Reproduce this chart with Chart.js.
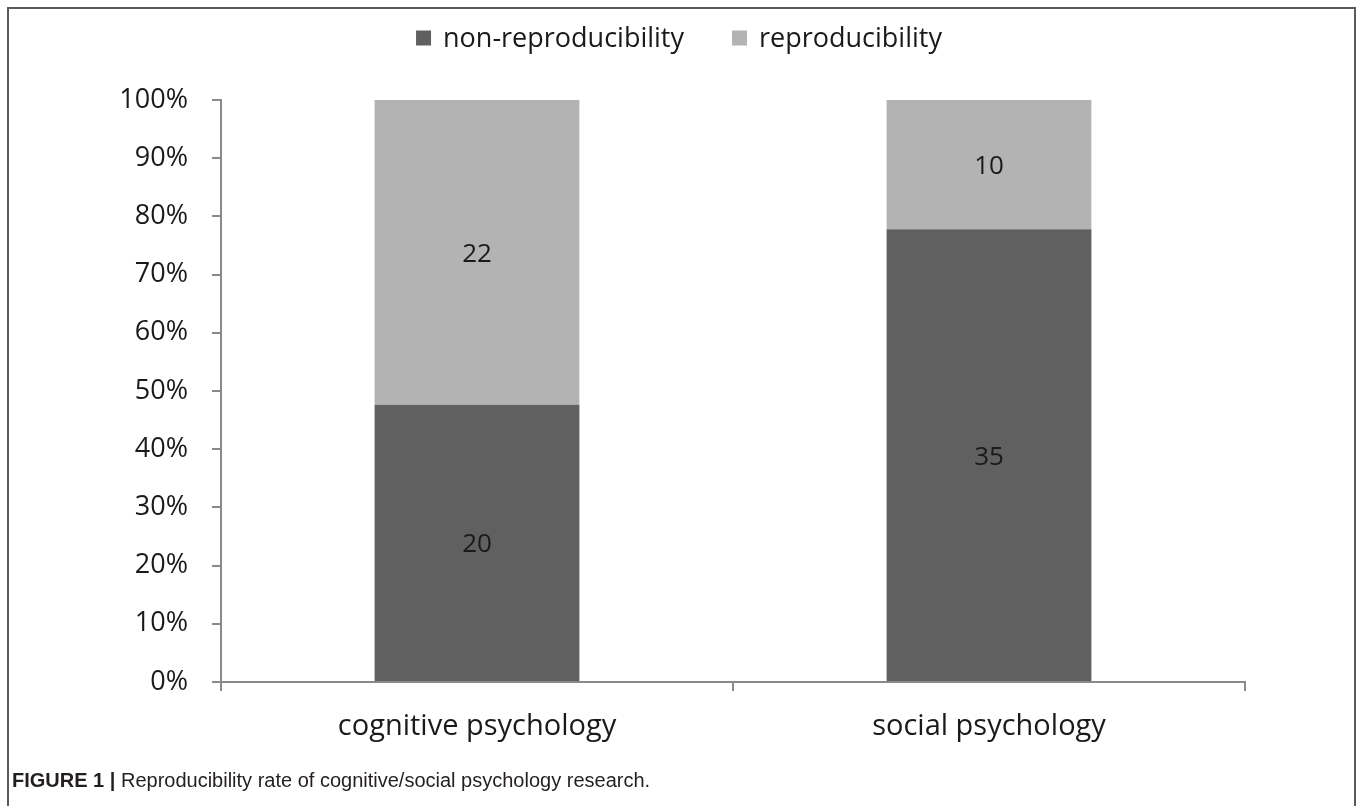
<!DOCTYPE html>
<html>
<head>
<meta charset="utf-8">
<script src="https://cdn.jsdelivr.net/npm/chart.js@4/dist/chart.umd.min.js"></script>
<style>
  html, body { margin: 0; padding: 0; background: #fff; }
  #frame {
    position: absolute; left: 0; top: 0; width: 1358px; height: 806px; overflow: hidden;
  }
  #box {
    position: absolute; left: 7px; top: 7px; width: 1349px; height: 820px;
    border: 2px solid #5a5a5a; box-sizing: border-box;
  }
  #chart { position: absolute; left: 0; top: 0; }
  #caption {
    position: absolute; left: 12px; top: 769px;
    font-family: "Liberation Sans", Arial, sans-serif;
    font-size: 20px; color: #231f20; white-space: nowrap;
  }
  #caption b { font-weight: bold; }
</style>
</head>
<body>
<div id="frame">
  <div id="box"></div>
  <canvas id="chart" width="1358" height="806"></canvas>
  <div id="caption"><b>FIGURE 1 |</b> Reproducibility rate of cognitive/social psychology research.</div>
</div>
<script>
// Studies per field, split by whether the finding was reproduced
const categories = ['cognitive psychology', 'social psychology'];
const nonReproducibility = [20, 35];
const reproducibility = [22, 10];
const seriesNames = ['non-reproducibility', 'reproducibility'];
const yTicks = [0, 10, 20, 30, 40, 50, 60, 70, 80, 90, 100];

const totals = categories.map((_, i) => nonReproducibility[i] + reproducibility[i]);
const toShare = arr => arr.map((v, i) => v / totals[i] * 100);

const FONT = '"Open Sans", "DejaVu Sans", sans-serif';
const AXIS = '#8a8a8a';
const TEXT = '#1a1a1a';

// Count labels centred in each stacked segment
const segmentLabels = {
  id: 'segmentLabels',
  afterDatasetsDraw(chart) {
    const ctx = chart.ctx;
    ctx.save();
    ctx.font = '26px ' + FONT;
    ctx.fillStyle = TEXT;
    ctx.textAlign = 'center';
    ctx.textBaseline = 'middle';
    chart.data.datasets.forEach((ds, di) => {
      chart.getDatasetMeta(di).data.forEach((bar, i) => {
        const p = bar.getProps(['x', 'y', 'base'], true);
        ctx.fillText(String(ds.counts[i]), p.x, (p.y + p.base) / 2 + 2);
      });
    });
    ctx.restore();
  }
};

// Legend row across the top, centred on the page
const topLegend = {
  id: 'topLegend',
  afterDraw(chart) {
    const ctx = chart.ctx;
    ctx.save();
    ctx.font = '27px ' + FONT;
    const box = 15, gap = 12, itemGap = 48, cy = 38;
    const items = chart.data.datasets.map(ds => ({
      text: ds.label, color: ds.backgroundColor, w: ctx.measureText(ds.label).width
    }));
    const total = items.reduce((s, it) => s + box + gap + it.w, 0) + itemGap * (items.length - 1);
    let x = chart.width / 2 - total / 2;
    ctx.textBaseline = 'middle';
    ctx.textAlign = 'left';
    items.forEach(it => {
      ctx.fillStyle = it.color;
      ctx.fillRect(x, cy - box / 2, box, box);
      x += box + gap;
      ctx.fillStyle = TEXT;
      ctx.fillText(it.text, x, cy + 1);
      x += it.w + itemGap;
    });
    ctx.restore();
  }
};

new Chart(document.getElementById('chart'), {
  type: 'bar',
  data: {
    labels: categories,
    datasets: [
      { label: seriesNames[0], counts: nonReproducibility, data: toShare(nonReproducibility),
        backgroundColor: '#606060' },
      { label: seriesNames[1], counts: reproducibility, data: toShare(reproducibility),
        backgroundColor: '#b3b3b3' }
    ]
  },
  options: {
    responsive: false,
    animation: false,
    devicePixelRatio: 1,
    categoryPercentage: 1,
    barPercentage: 0.4,
    layout: { padding: { left: 0, right: 113, top: 100, bottom: 0 } },
    plugins: { legend: { display: false }, tooltip: { enabled: false } },
    scales: {
      x: {
        stacked: true,
        grid: { drawOnChartArea: false, drawTicks: true, tickLength: 9, color: AXIS, lineWidth: 2, offset: true },
        border: { color: AXIS, width: 2 },
        ticks: { color: TEXT, font: { family: FONT, size: 29 }, padding: 18 },
        afterFit(s) { s.height = 124; }
      },
      y: {
        stacked: true,
        min: 0, max: 100,
        afterBuildTicks(s) { s.ticks = yTicks.map(v => ({ value: v })); },
        grid: { drawOnChartArea: false, drawTicks: true, tickLength: 9, color: AXIS, lineWidth: 2 },
        border: { color: AXIS, width: 2 },
        ticks: { color: TEXT, font: { family: FONT, size: 27 }, padding: 24, callback: v => v + '%' },
        afterFit(s) { s.width = 221; }
      }
    }
  },
  plugins: [segmentLabels, topLegend]
});
</script>
</body>
</html>
